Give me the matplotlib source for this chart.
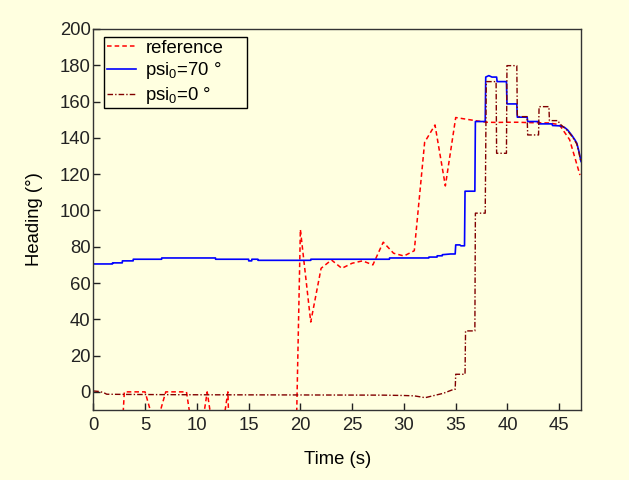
import matplotlib.pyplot as plt

plt.rcParams['font.family'] = ['Liberation Sans', 'DejaVu Sans']
plt.rcParams['mathtext.default'] = 'regular'

# reference heading, sampled every second (values below -10 fall off the axes)
ref_t = list(range(0, 48))
ref_heading = [-100, -100, -100, 0, 0, 0, -20, 0, 0, 0,
               -38, 0, -38, 0, -190, -190, -190, -190, -190, -195,
               89.5, 38.5, 68.1, 72.7, 68.1, 70.9, 72.2, 70.0, 82.5, 76.4,
               74.9, 77.8, 137.6, 147.1, 113.5, 151.2, 150.3, 149.4, 148.6, 148.5,
               148.6, 148.6, 148.4, 148.3, 148.2, 147.3, 139.0, 119.5]

# heading with initial heading 70 deg
psi70_t = [0, 1.85, 1.86, 2.8, 2.81, 3.85, 3.86, 6.6, 6.61, 11.8, 11.81, 15.0, 15.01,
           15.3, 15.31, 15.9, 15.91, 21.0, 21.01, 28.6, 28.61, 32.4, 32.41, 33.2, 33.21,
           33.7, 33.71, 34.5, 34.95, 35.0, 35.4, 35.5, 35.85, 35.9, 36.85, 36.9,
           37.85, 37.9, 38.2, 38.5, 38.95, 39.0, 39.9, 39.95, 40.9, 40.95, 41.9, 41.95,
           43.0, 43.05, 44.3, 44.35, 45.1, 45.5, 45.8, 46.2, 46.5, 46.7, 46.9, 47.1]
psi70_heading = [70.5, 70.5, 71.1, 71.1, 72.2, 72.2, 73.1, 73.1, 73.8, 73.8, 73.1, 73.1, 72.2,
                 72.2, 73.1, 73.1, 72.5, 72.5, 73.1, 73.1, 73.8, 73.8, 74.3, 74.3, 75.0,
                 75.0, 75.6, 76.0, 76.0, 81.0, 81.0, 80.5, 80.5, 110.6, 110.6, 149.0,
                 149.0, 173.5, 174.3, 173.5, 173.5, 171.0, 171.0, 158.7, 158.7, 151.4, 151.4, 149.0,
                 149.0, 147.7, 147.7, 146.8, 146.6, 145.8, 144.4, 141.5, 139.0, 137.0, 132.5, 127.0]

# heading with initial heading 0 deg
psi0_t = [0, 0.6, 1.0, 1.3, 3, 6, 10, 20, 28, 30, 31, 32.05, 32.85, 33.8, 34.8,
          34.95, 35.0, 35.9, 35.95, 36.85, 36.9, 37.85, 37.95, 38.9, 38.95, 39.9, 39.95,
          40.9, 40.95, 41.9, 41.95, 43.0, 43.05, 44.0, 44.05, 44.9, 45.0, 45.5, 45.8,
          46.2, 46.5, 46.7, 46.9, 47.1]
psi0_heading = [0.5, 0.2, -0.4, -1.3, -1.4, -1.5, -1.6, -1.7, -1.8, -2.0, -2.2, -3.2, -2.1, -0.8, 1.4,
                1.4, 9.7, 9.7, 33.6, 33.6, 98.5, 98.5, 171.0, 171.0, 131.5, 131.5, 179.8,
                179.8, 151.7, 151.7, 141.6, 141.6, 157.2, 157.2, 149.5, 149.5, 148.0, 145.5, 144.0,
                141.0, 138.5, 136.5, 132.0, 126.5]

bg = '#ffffe0'
fs = 13.3
fig = plt.figure(figsize=(6.29, 4.8), dpi=100, facecolor=bg)
ax = fig.add_axes([0.1483, 0.1458, 0.7754, 0.7938], facecolor=bg)

ax.plot(ref_t, ref_heading, color='#ff0000', lw=1.1, ls=(0, (3, 2)), label='reference')
ax.plot(psi70_t, psi70_heading, color='#0000ff', lw=1.2, label='psi$_0$=70 °')
ax.plot(psi0_t, psi0_heading, color='#800000', lw=1.0, ls=(0, (4, 1.5, 1, 1.5)),
        label='psi$_0$=0 °')

ax.set_xlim(0, 47.1)
ax.set_ylim(-10, 200)
ax.set_xticks(range(0, 50, 5))
ax.set_yticks(range(0, 201, 20))
ax.tick_params(direction='in', length=5, width=1, labelsize=fs, colors='#222222',
               top=False, right=False)
ax.tick_params(axis='x', pad=5)
ax.tick_params(axis='y', pad=2)
for s in ax.spines.values():
    s.set_color('#333333')
    s.set_linewidth(1.0)

ax.set_xlabel('Time (s)', fontsize=fs, labelpad=12)
ax.set_ylabel('Heading (°)', fontsize=fs, labelpad=12)

# legend box stretched to a fixed width, text left aligned
leg = ax.legend(loc='upper left', bbox_to_anchor=(0.0226, 0, 0.292, 0.978),
                mode='expand', borderaxespad=0,
                fontsize=fs, handlelength=1.6, handletextpad=0.5, labelspacing=0.2,
                borderpad=0.12, fancybox=False, framealpha=1, facecolor=bg,
                edgecolor='#000000')
leg.get_frame().set_linewidth(1.0)

fig.savefig('out.png', dpi=100, facecolor=bg)
